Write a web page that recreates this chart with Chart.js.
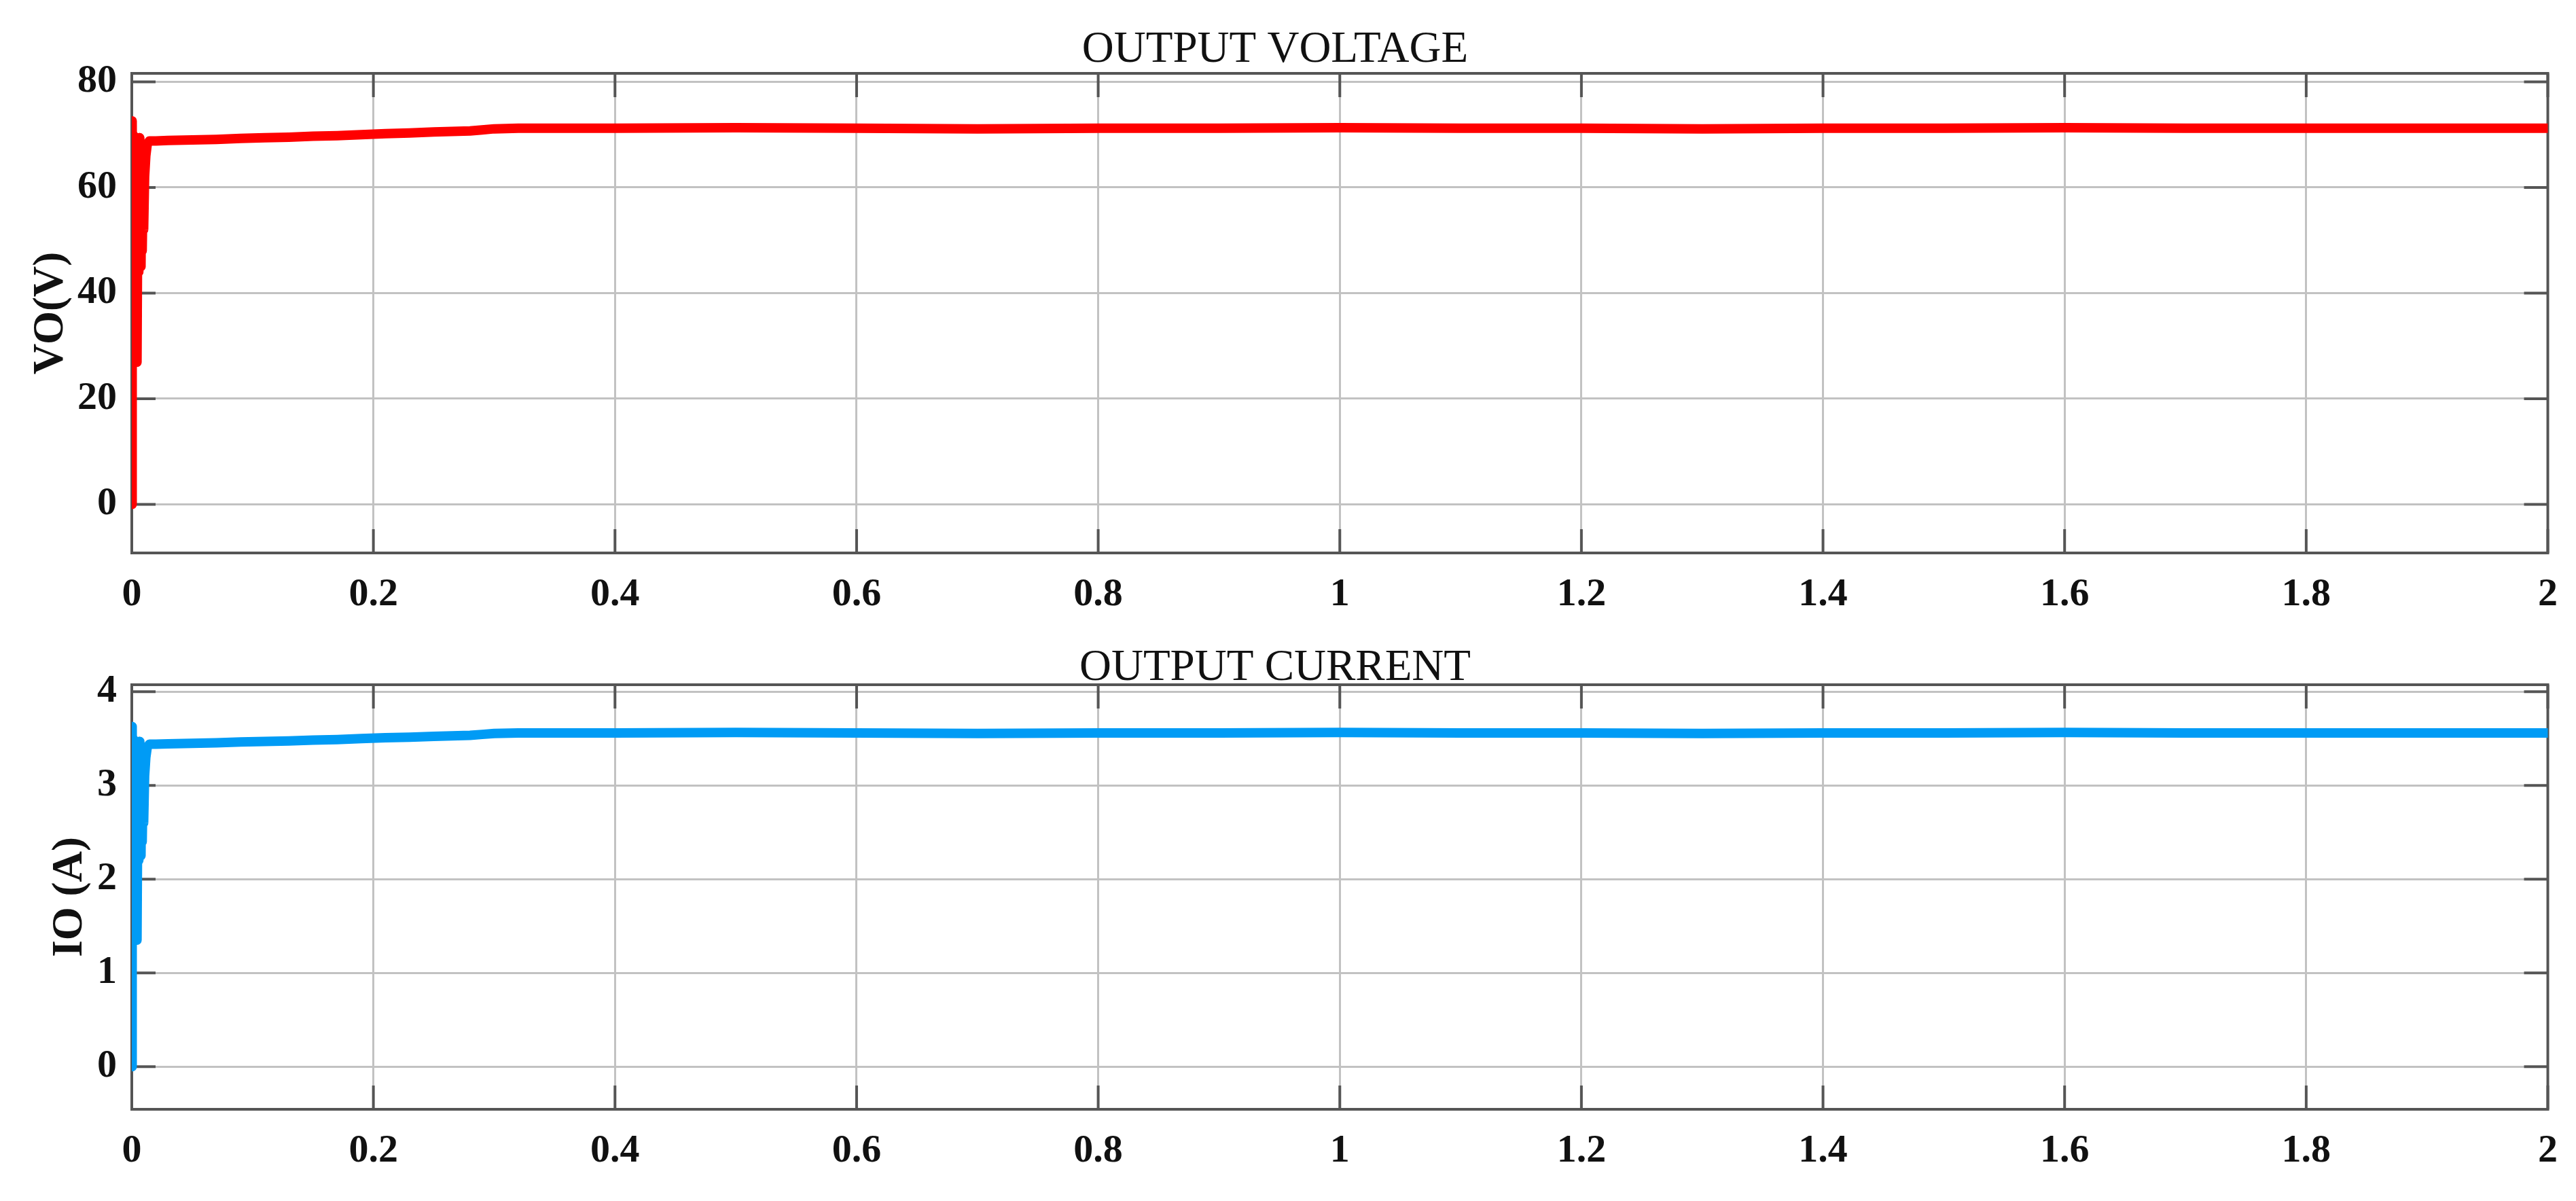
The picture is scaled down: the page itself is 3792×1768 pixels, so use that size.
<!DOCTYPE html>
<html>
<head>
<meta charset="utf-8">
<script src="https://cdn.jsdelivr.net/npm/chart.js@4/dist/chart.umd.min.js"></script>
<style>
html,body{margin:0;padding:0;background:#ffffff;overflow:hidden;width:3792px;height:1768px}
canvas{display:block;position:absolute;left:0}
</style>
</head>
<body>
<canvas id="cv" width="3792" height="940" style="top:0;width:3792px;height:940px"></canvas>
<canvas id="ci" width="3792" height="884" style="top:884px;width:3792px;height:884px"></canvas>
<script>
// ---- data ----
const timeS = [0, 0.0003, 0.0007, 0.0011, 0.0015, 0.0019, 0.0023, 0.0028, 0.0033, 0.0038, 0.0043, 0.0048, 0.0053, 0.0058, 0.0062, 0.0066, 0.0071, 0.0076, 0.0081, 0.0086, 0.0092, 0.0098, 0.0106, 0.0116, 0.0128, 0.0146, 0.02, 0.03, 0.05, 0.07, 0.09, 0.11, 0.13, 0.15, 0.17, 0.19, 0.21, 0.23, 0.25, 0.265, 0.28, 0.29, 0.30, 0.32, 0.35, 0.4, 0.5, 0.6, 0.7, 0.8, 0.9, 1.0, 1.1, 1.2, 1.3, 1.4, 1.5, 1.6, 1.7, 1.8, 1.9, 2.0];
const voltageV = [0, 72.6, 40, 70, 38, 66, 36, 62, 38, 55, 26.9, 50, 66, 44, 69.4, 46, 62, 45, 60, 48, 58, 52, 62, 66, 68.2, 68.8, 68.8, 68.9, 69.0, 69.1, 69.3, 69.4, 69.5, 69.7, 69.8, 70.0, 70.2, 70.3, 70.5, 70.6, 70.7, 70.9, 71.1, 71.2, 71.2, 71.2, 71.3, 71.2, 71.1, 71.2, 71.2, 71.3, 71.2, 71.2, 71.1, 71.2, 71.2, 71.3, 71.2, 71.2, 71.2, 71.2];
const currentA = [0, 3.63, 2.0, 3.5, 1.9, 3.3, 1.8, 3.1, 1.9, 2.75, 1.35, 2.5, 3.3, 2.2, 3.47, 2.3, 3.1, 2.25, 3.0, 2.4, 2.9, 2.6, 3.1, 3.3, 3.41, 3.44, 3.44, 3.445, 3.45, 3.455, 3.465, 3.47, 3.475, 3.485, 3.49, 3.5, 3.51, 3.515, 3.525, 3.53, 3.535, 3.545, 3.555, 3.56, 3.56, 3.56, 3.565, 3.56, 3.555, 3.56, 3.56, 3.565, 3.56, 3.56, 3.555, 3.56, 3.56, 3.565, 3.56, 3.56, 3.56, 3.56];
const xTickValues = [0, 0.2, 0.4, 0.6, 0.8, 1, 1.2, 1.4, 1.6, 1.8, 2];
const xTickLabels = ['0', '0.2', '0.4', '0.6', '0.8', '1', '1.2', '1.4', '1.6', '1.8', '2'];
const vTickValues = [0, 20, 40, 60, 80];
const vTickLabels = ['0', '20', '40', '60', '80'];
const iTickValues = [0, 1, 2, 3, 4];
const iTickLabels = ['0', '1', '2', '3', '4'];

const SERIF = '"Liberation Serif", "Times New Roman", Times, serif';

const framePlugin = {
  id: 'frame',
  beforeDatasetsDraw(chart) {
    const {ctx, chartArea: a, scales} = chart;
    const L = 35;
    ctx.save();
    ctx.strokeStyle = '#555555';
    ctx.lineWidth = 4;
    ctx.beginPath();
    scales.x.ticks.forEach(t => {
      const px = scales.x.getPixelForValue(t.value);
      ctx.moveTo(px, a.top); ctx.lineTo(px, a.top + L);
      ctx.moveTo(px, a.bottom); ctx.lineTo(px, a.bottom - L);
    });
    scales.y.ticks.forEach(t => {
      const py = scales.y.getPixelForValue(t.value);
      ctx.moveTo(a.left, py); ctx.lineTo(a.left + L, py);
      ctx.moveTo(a.right, py); ctx.lineTo(a.right - L, py);
    });
    ctx.stroke();
    ctx.strokeRect(a.left, a.top, a.right - a.left, a.bottom - a.top);
    ctx.restore();
  }
};

function makeChart(id, cfg) {
  const pts = timeS.map((t, i) => ({x: t, y: cfg.values[i]}));
  return new Chart(document.getElementById(id), {
    type: 'line',
    data: {datasets: [{
      data: pts, borderColor: cfg.color, backgroundColor: cfg.color,
      borderWidth: 14, pointRadius: 0, tension: 0, fill: false,
      borderJoinStyle: 'round', borderCapStyle: 'round'
    }]},
    options: {
      responsive: false, animation: false, devicePixelRatio: 1,
      layout: {padding: {left: 0, right: 38, top: 0, bottom: 0}},
      plugins: {
        legend: {display: false}, tooltip: {enabled: false},
        title: {display: true, text: cfg.title, color: '#111111',
          font: {family: SERIF, size: 65, weight: 'normal', lineHeight: 1.2},
          padding: {top: cfg.titleTop, bottom: cfg.titleBottom}}
      },
      scales: {
        x: {
          type: 'linear', min: 0, max: 2,
          afterBuildTicks: s => { s.ticks = xTickValues.map(v => ({value: v})); },
          afterFit: s => { s.height = cfg.xAxisH; },
          ticks: {callback: (v, i) => xTickLabels[i], color: '#111111', padding: 27,
            autoSkip: false, maxRotation: 0,
            font: {family: SERIF, size: 58, weight: 'bold'}},
          grid: {color: '#c2c2c2', lineWidth: 3, drawTicks: false},
          border: {display: false}
        },
        y: {
          type: 'linear', min: cfg.yMin, max: cfg.yMax,
          afterBuildTicks: s => { s.ticks = cfg.yTicks.map(v => ({value: v})); },
          afterFit: s => { s.width = 194; },
          ticks: {callback: (v, i) => cfg.yLabels[i], color: '#111111', padding: 22,
            font: {family: SERIF, size: 58, weight: 'bold'}},
          grid: {color: '#c2c2c2', lineWidth: 3, drawTicks: false},
          border: {display: false},
          title: {display: true, text: cfg.yTitle, color: '#111111',
            font: {family: SERIF, size: 63, weight: 'bold', lineHeight: 1.2},
            padding: {top: cfg.yTitlePad, bottom: 0}}
        }
      }
    },
    plugins: [framePlugin]
  });
}

makeChart('cv', {
  values: voltageV, color: '#ff0000', title: 'OUTPUT VOLTAGE', titleTop: 35, titleBottom: -5,
  xAxisH: 126, yMin: -9.2, yMax: 81.6, yTicks: vTickValues, yLabels: vTickLabels,
  yTitle: 'VO(V)', yTitlePad: 38
});
makeChart('ci', {
  values: currentA, color: '#009bf5', title: 'OUTPUT CURRENT', titleTop: 61, titleBottom: -15,
  xAxisH: 135, yMin: -0.455, yMax: 4.075, yTicks: iTickValues, yLabels: iTickLabels,
  yTitle: 'IO (A)', yTitlePad: 66
});
</script>
</body>
</html>
